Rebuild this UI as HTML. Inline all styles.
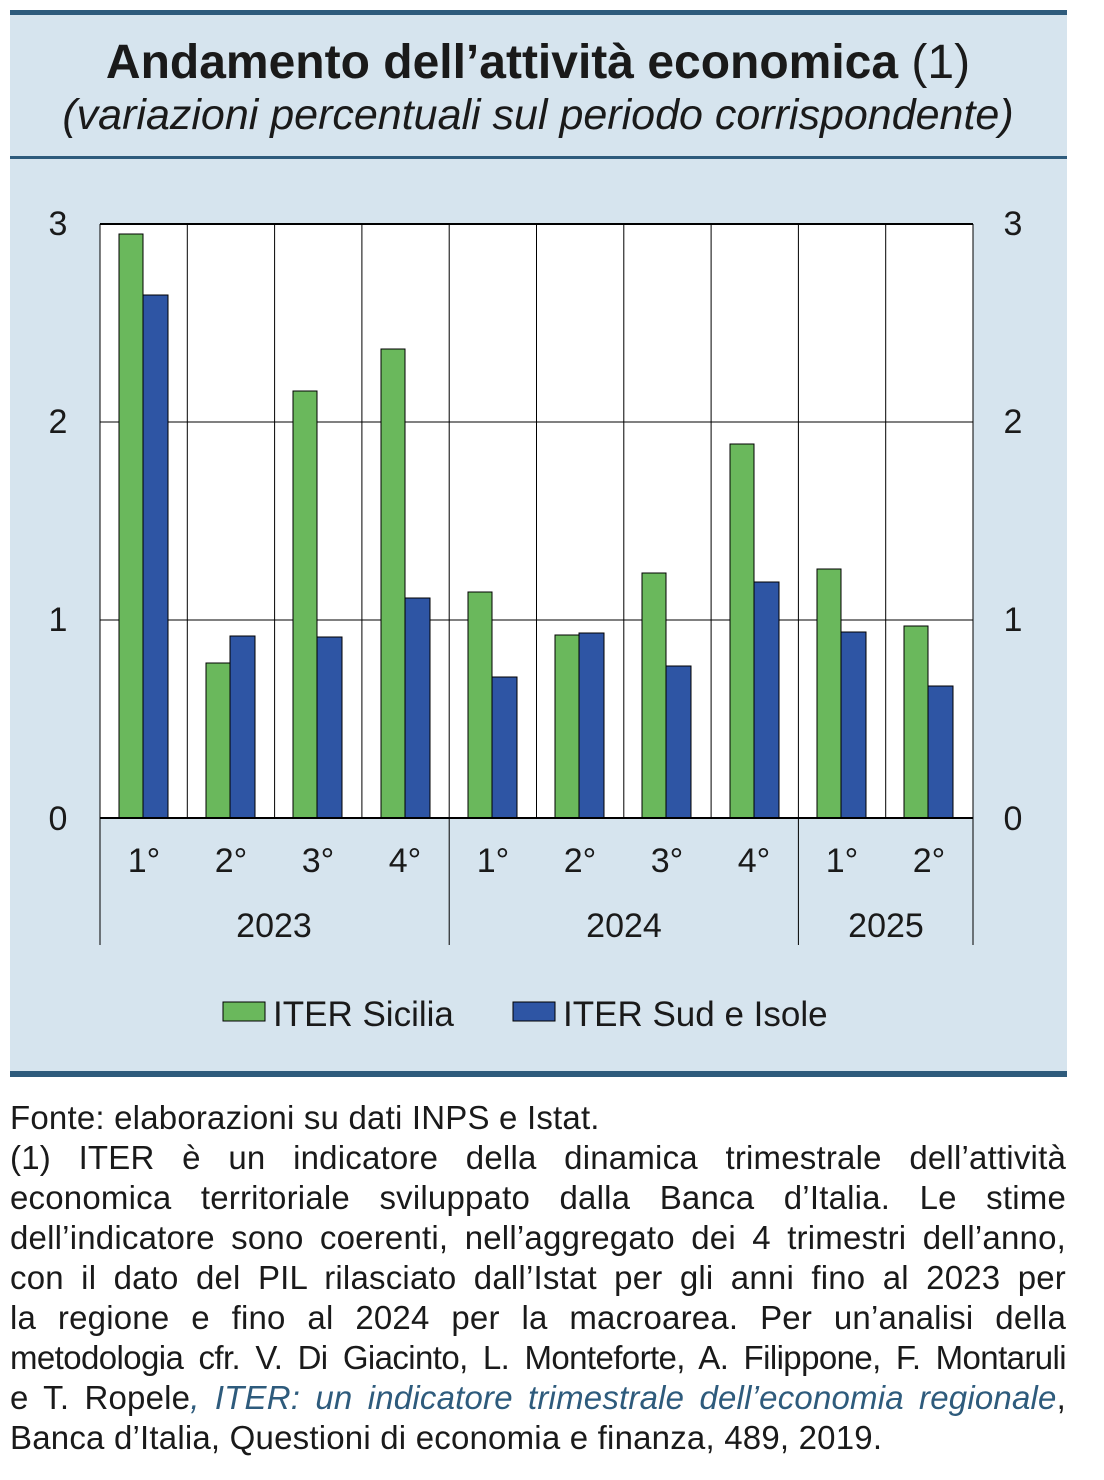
<!DOCTYPE html>
<html><head><meta charset="utf-8"><style>
body{margin:0;width:1104px;height:1480px;background:#fff;font-family:"Liberation Sans",sans-serif;position:relative;overflow:hidden}
.ft{position:absolute;left:10px;width:1056px;font-size:33px;letter-spacing:0.2px;color:#1a1a1a;line-height:40px}
.ft div{text-align:justify;text-align-last:justify;white-space:nowrap}
.ft div.l{text-align-last:left}
</style></head><body>
<svg width="1104" height="1090" style="position:absolute;left:0;top:0" font-family="Liberation Sans, sans-serif">
<rect x="10" y="12" width="1057" height="1064" fill="#d6e4ee"/>
<rect x="10" y="10" width="1057" height="5" fill="#2e5b7c"/>
<rect x="10" y="156" width="1057" height="3" fill="#2e5b7c"/>
<rect x="10" y="1071" width="1057" height="6" fill="#2e5b7c"/>
<text x="538" y="78" text-anchor="middle" font-size="48" font-weight="bold" fill="#1a1a1a">Andamento dell’attività economica <tspan font-weight="normal">(1)</tspan></text>
<text x="538" y="129" text-anchor="middle" font-size="43" font-style="italic" fill="#1a1a1a">(variazioni percentuali sul periodo corrispondente)</text>
<rect x="100" y="224" width="873" height="594" fill="#fff"/>
<g stroke="#000" stroke-width="1">
<line x1="100" y1="422" x2="973" y2="422"/><line x1="100" y1="620" x2="973" y2="620"/>
<line x1="187.3" y1="224" x2="187.3" y2="818"/><line x1="274.6" y1="224" x2="274.6" y2="818"/><line x1="361.9" y1="224" x2="361.9" y2="818"/><line x1="449.2" y1="224" x2="449.2" y2="945"/><line x1="536.5" y1="224" x2="536.5" y2="818"/><line x1="623.8" y1="224" x2="623.8" y2="818"/><line x1="711.1" y1="224" x2="711.1" y2="818"/><line x1="798.4" y1="224" x2="798.4" y2="945"/><line x1="885.7" y1="224" x2="885.7" y2="818"/>
<line x1="100" y1="224" x2="100" y2="945"/><line x1="973" y1="224" x2="973" y2="945"/>
</g>
<line x1="100" y1="224" x2="973" y2="224" stroke="#000" stroke-width="2"/>
<g stroke="#000" stroke-width="1">
<rect x="119" y="234" width="24" height="584" fill="#6ab85c"/><rect x="143" y="295" width="25" height="523" fill="#2e55a4"/>
<rect x="206" y="663" width="24" height="155" fill="#6ab85c"/><rect x="230" y="636" width="25" height="182" fill="#2e55a4"/>
<rect x="293" y="391" width="24" height="427" fill="#6ab85c"/><rect x="317" y="637" width="25" height="181" fill="#2e55a4"/>
<rect x="381" y="349" width="24" height="469" fill="#6ab85c"/><rect x="405" y="598" width="25" height="220" fill="#2e55a4"/>
<rect x="468" y="592" width="24" height="226" fill="#6ab85c"/><rect x="492" y="677" width="25" height="141" fill="#2e55a4"/>
<rect x="555" y="635" width="24" height="183" fill="#6ab85c"/><rect x="579" y="633" width="25" height="185" fill="#2e55a4"/>
<rect x="642" y="573" width="24" height="245" fill="#6ab85c"/><rect x="666" y="666" width="25" height="152" fill="#2e55a4"/>
<rect x="730" y="444" width="24" height="374" fill="#6ab85c"/><rect x="754" y="582" width="25" height="236" fill="#2e55a4"/>
<rect x="817" y="569" width="24" height="249" fill="#6ab85c"/><rect x="841" y="632" width="25" height="186" fill="#2e55a4"/>
<rect x="904" y="626" width="24" height="192" fill="#6ab85c"/><rect x="928" y="686" width="25" height="132" fill="#2e55a4"/>
</g>
<line x1="100" y1="818" x2="973" y2="818" stroke="#000" stroke-width="2"/>
<g font-size="34" fill="#1a1a1a" text-anchor="middle">
<text x="58" y="235">3</text><text x="58" y="433">2</text><text x="58" y="631">1</text><text x="58" y="830">0</text>
<text x="1013" y="235">3</text><text x="1013" y="433">2</text><text x="1013" y="631">1</text><text x="1013" y="830">0</text>
<text x="144" y="872">1°</text><text x="231" y="872">2°</text><text x="318" y="872">3°</text><text x="405" y="872">4°</text>
<text x="493" y="872">1°</text><text x="580" y="872">2°</text><text x="667" y="872">3°</text><text x="754" y="872">4°</text>
<text x="842" y="872">1°</text><text x="929" y="872">2°</text>
<text x="274" y="937">2023</text><text x="624" y="937">2024</text><text x="886" y="937">2025</text>
</g>
<rect x="223" y="1002" width="42" height="19" fill="#6ab85c" stroke="#000"/>
<rect x="513" y="1002" width="42" height="19" fill="#2e55a4" stroke="#000"/>
<g font-size="35" fill="#1a1a1a"><text x="273" y="1026">ITER Sicilia</text><text x="563" y="1026">ITER Sud e Isole</text></g>
</svg>
<div class="ft" style="top:1098px">
<div class="l">Fonte: elaborazioni su dati INPS e Istat.</div>
<div>(1) ITER è un indicatore della dinamica trimestrale dell’attività</div>
<div>economica territoriale sviluppato dalla Banca d’Italia. Le stime</div>
<div>dell’indicatore sono coerenti, nell’aggregato dei 4 trimestri dell’anno,</div>
<div>con il dato del PIL rilasciato dall’Istat per gli anni fino al 2023 per</div>
<div>la regione e fino al 2024 per la macroarea. Per un’analisi della</div>
<div style="letter-spacing:-0.6px">metodologia cfr. V. Di Giacinto, L. Monteforte, A. Filippone, F. Montaruli</div>
<div>e T. Ropele<i style="color:#2e5b7c">, ITER: un indicatore trimestrale dell’economia regionale</i>,</div>
<div class="l">Banca d’Italia, Questioni di economia e finanza, 489, 2019.</div>
</div>
</body></html>
